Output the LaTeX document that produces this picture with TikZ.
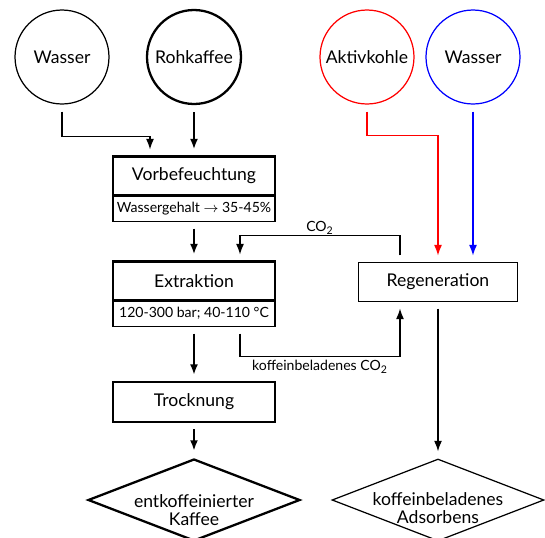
\documentclass[tikz,border=0pt]{standalone}
\usepackage{fontspec}
\setmainfont{Lato}
\usetikzlibrary{arrows.meta,calc,positioning,shapes.geometric}

\begin{document}
\begin{tikzpicture}[x=0.02cm, y=-0.02cm,
    source/.style={draw, circle, minimum size=1.88cm, inner sep=0pt, line width=0.7pt},
    stage/.style={draw, rectangle, minimum width=3.24cm, minimum height=0.78cm, outer sep=0pt, line width=1.3pt},
    info/.style={draw, rectangle, minimum width=3.24cm, minimum height=0.52cm, outer sep=0pt, inner sep=1pt, line width=0.7pt, font=\footnotesize},
    product/.style={draw, diamond, aspect=2.6, minimum width=4.24cm, minimum height=1.64cm, inner sep=0pt, line width=0.7pt},
    producttext/.style={align=center, inner sep=0pt},
    flow/.style={-{Latex[length=6pt,width=4.5pt]}, line width=0.7pt, shorten <=4pt, shorten >=4pt},
    mainflow/.style={flow, line width=1.3pt}]
    \clip (0,0) rectangle (545,538);

    % sources
    \node[source] (wasserA) at (62,57) {Wasser};
    \node[source, line width=1.3pt] (rohkaffee) at (194,57) {Rohkaffee};
    \node[source, red] (aktivkohle) at (367,57) {\textcolor{black}{Aktivkohle}};
    \node[source, blue] (wasserB) at (473,57) {\textcolor{black}{Wasser}};

    % process column
    \node[stage] (vorbe) at (194,176) {Vorbefeuchtung};
    \node[info, below=0pt of vorbe] (vorbeinfo) {Wassergehalt $\rightarrow$ 35-45\%};
    \node[stage] (extrakt) at (194,281) {Extraktion};
    \node[info, below=0pt of extrakt] (extraktinfo) {120-300 bar; 40-110 °C};
    \node[stage, minimum height=0.8cm] (trocknung) at (194,402) {Trocknung};
    \node[product, line width=1.3pt] (kaffee) at (194,500) {};
    \node[producttext] (kaffeetext) at (194,510) {entkoffeinierter\\[-2pt]Kaffee};

    % regeneration column
    \node[stage, line width=0.7pt, minimum width=3.18cm] (regen) at (438,282) {Regeneration};
    \node[product] (adsorbens) at (438,500) {};
    \node[producttext] (adsorbenstext) at (438,508) {koffeinbeladenes\\[-2pt]Adsorbens};

    \draw[flow] (wasserA.south) -- ++(0,32) -| ($(vorbe.north)+(-44,0)$);
    \draw[mainflow] (rohkaffee) -- (vorbe);
    \draw[mainflow] (vorbeinfo) -- (extrakt);
    \draw[mainflow] (extraktinfo) -- (trocknung);
    \draw[mainflow] (trocknung) -- (kaffee);

    \draw[flow, red] (aktivkohle.south) -- ++(0,31) -| (regen.north);
    \draw[flow, blue] (wasserB.south) -- (wasserB.south |- regen.north);
    \draw[flow] ($(regen.north)+(-38,0)$) -- ++(0,-27) -| node[pos=0.25, above, inner sep=0.5pt, font=\footnotesize] (colabel) {CO\textsubscript{2}} ($(extrakt.north)+(46,0)$);
    \draw[flow] ($(extraktinfo.south)+(46,0)$) -- ++(0,30) -| node[pos=0.25, below, inner sep=2pt, font=\footnotesize] (kolabel) {koffeinbeladenes CO\textsubscript{2}} ($(regen.south)+(-38,0)$);
    \draw[flow] (regen) -- (adsorbens);
  \end{tikzpicture}
\end{document}
